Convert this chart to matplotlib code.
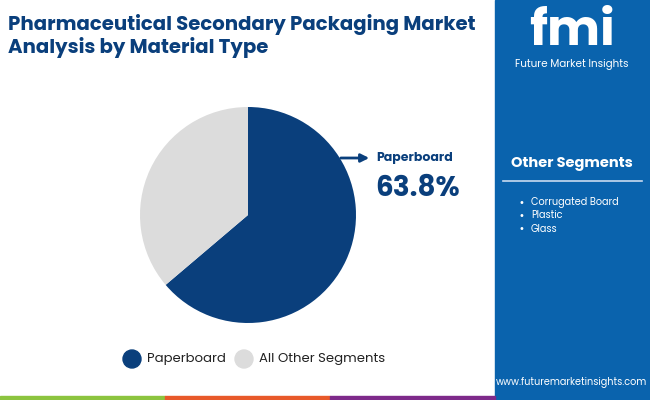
import matplotlib
matplotlib.use("Agg")
import matplotlib.pyplot as plt
from matplotlib.patches import Rectangle

categories = ["Paperboard", "All Other Segments"]
values = [63.8, 36.2]
other_segments = ["Corrugated Board", "Plastic", "Glass"]
colors = ["#0a3f7c", "#dcdcdc"]

W, H = 650, 400
fig = plt.figure(figsize=(6.5, 4), dpi=100)
bg = fig.add_axes([0, 0, 1, 1])
bg.set_xlim(0, W); bg.set_ylim(H, 0); bg.axis("off")

bg.add_patch(Rectangle((495, 0), 155, 400, color="#0a63ad", zorder=0))
for x0, c in [(0, "#8cc43f"), (165, "#e8592a"), (330, "#7e2a8a")]:
    bg.add_patch(Rectangle((x0, 396), 165, 4, color=c, zorder=1))

ff = ["Poppins", "Lato", "DejaVu Sans"]
bg.text(8, 14, "Pharmaceutical Secondary Packaging Market\nAnalysis by Material Type",
        fontsize=14.2, fontweight="bold", color="#0a3f7c", va="top", family=ff, linespacing=1.1)

bg.text(572, 33, "fmi", fontsize=36, fontweight="bold", color="white", ha="center", va="center", family=ff)
bg.text(572, 64, "Future Market Insights", fontsize=7.5, color="white", ha="center", va="center", family=ff)

bg.text(572, 164, "Other Segments", fontsize=10.5, fontweight="bold", color="white", ha="center", va="center", family=ff)
bg.plot([503, 642], [181, 181], color="#c8daf0", lw=1.2)
for i, s in enumerate(other_segments):
    y = 203 + i * 13
    bg.text(518, y, "•", fontsize=7, color="white", va="center")
    bg.text(531, y, s, fontsize=7, color="white", va="center", family=ff)
bg.text(572, 383, "www.futuremarketinsights.com", fontsize=7, color="white", ha="center", va="center", family=ff)

cx, cy, r = 248, 215, 108
pax = fig.add_axes([(cx - r) / W, 1 - (cy + r) / H, 2 * r / W, 2 * r / H])
pax.pie(values, colors=colors, startangle=90, counterclock=False,
        wedgeprops=dict(linewidth=0))
pax.set_aspect("auto")
pax.set_xlim(-1, 1); pax.set_ylim(-1, 1)

bg.annotate("", xy=(372, 158), xytext=(338, 158),
            arrowprops=dict(arrowstyle="-|>", color="#0a3f7c", lw=2, mutation_scale=12))
bg.text(376, 158, categories[0], fontsize=9, fontweight="bold", color="#0a3f7c", va="center", family=ff)
bg.text(375, 190, f"{values[0]}%", fontsize=20, fontweight="bold", color="#0a3f7c", va="center", family=ff)

for x, c, lab in [(132, colors[0], categories[0]), (244, colors[1], categories[1])]:
    bg.add_patch(plt.Circle((x, 359), 9, color=c))
    bg.text(x + 15, 359, lab, fontsize=9.5, color="#222222", va="center", family=ff)

fig.savefig("out.png", dpi=100)
